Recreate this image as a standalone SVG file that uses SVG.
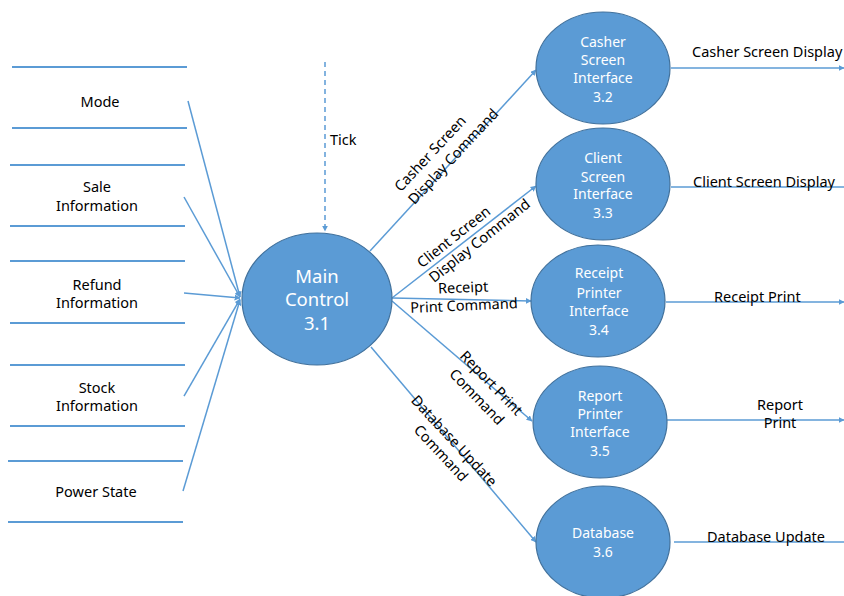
<svg xmlns="http://www.w3.org/2000/svg" width="844" height="596" viewBox="0 0 844 596">
<defs>
<marker id="arr" viewBox="0 0 10 10" refX="9" refY="5" markerWidth="6" markerHeight="6" orient="auto" markerUnits="userSpaceOnUse">
<path d="M0,0 L10,5 L0,10 z" fill="#5B9BD5"/>
</marker>
<style>
.proc{fill:#5B9BD5;stroke:#41719C;stroke-width:1.2}
.nt{font-family:"Noto Sans","DejaVu Sans",sans-serif;font-size:14px;fill:#ffffff;text-anchor:middle}
.mt{font-family:"Noto Sans","DejaVu Sans",sans-serif;font-size:18.5px;fill:#ffffff;text-anchor:middle}
.lb{font-family:"Noto Sans","DejaVu Sans",sans-serif;font-size:14.5px;fill:#000000}
.c{text-anchor:middle}
.ln{stroke:#5B9BD5;stroke-width:1.5;fill:none}
.st{stroke:#5B9BD5;stroke-width:2;fill:none}
.fl{stroke:#5B9BD5;stroke-width:1.5;fill:none;marker-end:url(#arr)}
</style>
</defs>
<rect width="844" height="596" fill="#ffffff"/>

<g id="stores">
<g id="store-mode">
<line class="st" x1="12" y1="67" x2="187" y2="67"/>
<line class="st" x1="12" y1="128" x2="187" y2="128"/>
<text class="lb c" x="100" y="107">Mode</text>
</g>
<g id="store-sale">
<line class="st" x1="10" y1="165" x2="185" y2="165"/>
<line class="st" x1="10" y1="226" x2="185" y2="226"/>
<text class="lb c" x="97" y="192">Sale</text>
<text class="lb c" x="97" y="211">Information</text>
</g>
<g id="store-refund">
<line class="st" x1="10" y1="261" x2="185" y2="261"/>
<line class="st" x1="10" y1="323" x2="185" y2="323"/>
<text class="lb c" x="97" y="290">Refund</text>
<text class="lb c" x="97" y="308">Information</text>
</g>
<g id="store-stock">
<line class="st" x1="10" y1="365" x2="185" y2="365"/>
<line class="st" x1="10" y1="426" x2="185" y2="426"/>
<text class="lb c" x="97" y="393">Stock</text>
<text class="lb c" x="97" y="411">Information</text>
</g>
<g id="store-power">
<line class="st" x1="8" y1="461" x2="183" y2="461"/>
<line class="st" x1="8" y1="522" x2="183" y2="522"/>
<text class="lb c" x="96" y="497">Power State</text>
</g>
</g>

<g id="connectors">
<line class="fl" x1="188" y1="101" x2="240" y2="297"/>
<line class="fl" x1="184" y1="197" x2="240" y2="297"/>
<line class="fl" x1="184" y1="293" x2="240" y2="298"/>
<line class="fl" x1="184" y1="396" x2="240" y2="299"/>
<line class="fl" x1="183" y1="491" x2="240" y2="300"/>
<line class="fl" x1="325" y1="62" x2="325" y2="231" stroke-dasharray="5,4"/>
<text class="lb" x="330" y="145">Tick</text>

<line class="fl" x1="370" y1="251" x2="536" y2="70"/>
<line class="fl" x1="392" y1="298" x2="536" y2="186"/>
<line class="fl" x1="392" y1="298" x2="531" y2="301"/>
<line class="fl" x1="392" y1="301" x2="532" y2="421"/>
<line class="fl" x1="371" y1="347" x2="536" y2="542"/>

<g transform="translate(397,189) rotate(-47)">
<text class="lb" x="0" y="5">Casher Screen</text>
<text class="lb" x="0" y="24">Display Command</text>
</g>
<g transform="translate(419,264.5) rotate(-38.5)">
<text class="lb" x="0" y="5">Client Screen</text>
<text class="lb" x="0" y="24">Display Command</text>
</g>
<g transform="translate(463.5,296.5) rotate(-2.5)">
<text class="lb c" x="0" y="-4">Receipt</text>
<text class="lb c" x="0" y="14">Print Command</text>
</g>
<g transform="translate(484,390) rotate(46)">
<text class="lb c" x="0" y="-5">Report Print</text>
<text class="lb c" x="0" y="15">Command</text>
</g>
<g transform="translate(447.5,447) rotate(47)">
<text class="lb c" x="0" y="-4">Database Update</text>
<text class="lb c" x="0" y="14">Command</text>
</g>

<line class="fl" x1="671" y1="68" x2="844" y2="68"/>
<line class="ln" x1="671" y1="187" x2="844" y2="187"/>
<line class="fl" x1="666" y1="302" x2="844" y2="302"/>
<line class="fl" x1="667" y1="420" x2="844" y2="420"/>
<line class="ln" x1="674" y1="542" x2="844" y2="542"/>
<text class="lb" x="692" y="57">Casher Screen Display</text>
<text class="lb" x="693" y="187">Client Screen Display</text>
<text class="lb" x="714" y="302">Receipt Print</text>
<text class="lb c" x="780" y="410">Report</text>
<text class="lb c" x="780" y="428">Print</text>
<text class="lb" x="707" y="542">Database Update</text>
</g>

<g id="main-control">
<ellipse class="proc" cx="317" cy="299" rx="75" ry="66"/>
<text class="mt" x="317" y="283">Main</text>
<text class="mt" x="317" y="306">Control</text>
<text class="mt" x="317" y="330">3.1</text>
</g>
<g id="casher-screen-interface">
<ellipse class="proc" cx="603" cy="68" rx="67" ry="56"/>
<text class="nt" x="603" y="47">Casher</text>
<text class="nt" x="603" y="65">Screen</text>
<text class="nt" x="603" y="83">Interface</text>
<text class="nt" x="603" y="102">3.2</text>
</g>
<g id="client-screen-interface">
<ellipse class="proc" cx="603" cy="184" rx="67" ry="56"/>
<text class="nt" x="603" y="163">Client</text>
<text class="nt" x="603" y="182">Screen</text>
<text class="nt" x="603" y="199">Interface</text>
<text class="nt" x="603" y="218">3.3</text>
</g>
<g id="receipt-printer-interface">
<ellipse class="proc" cx="598" cy="301" rx="67" ry="56"/>
<text class="nt" x="599" y="278">Receipt</text>
<text class="nt" x="599" y="298">Printer</text>
<text class="nt" x="599" y="316">Interface</text>
<text class="nt" x="599" y="335">3.4</text>
</g>
<g id="report-printer-interface">
<ellipse class="proc" cx="600" cy="422" rx="67" ry="56"/>
<text class="nt" x="600" y="401">Report</text>
<text class="nt" x="600" y="419">Printer</text>
<text class="nt" x="600" y="437">Interface</text>
<text class="nt" x="600" y="456">3.5</text>
</g>
<g id="database">
<ellipse class="proc" cx="603" cy="542" rx="67" ry="56"/>
<text class="nt" x="603" y="538">Database</text>
<text class="nt" x="603" y="557">3.6</text>
</g>
</svg>
